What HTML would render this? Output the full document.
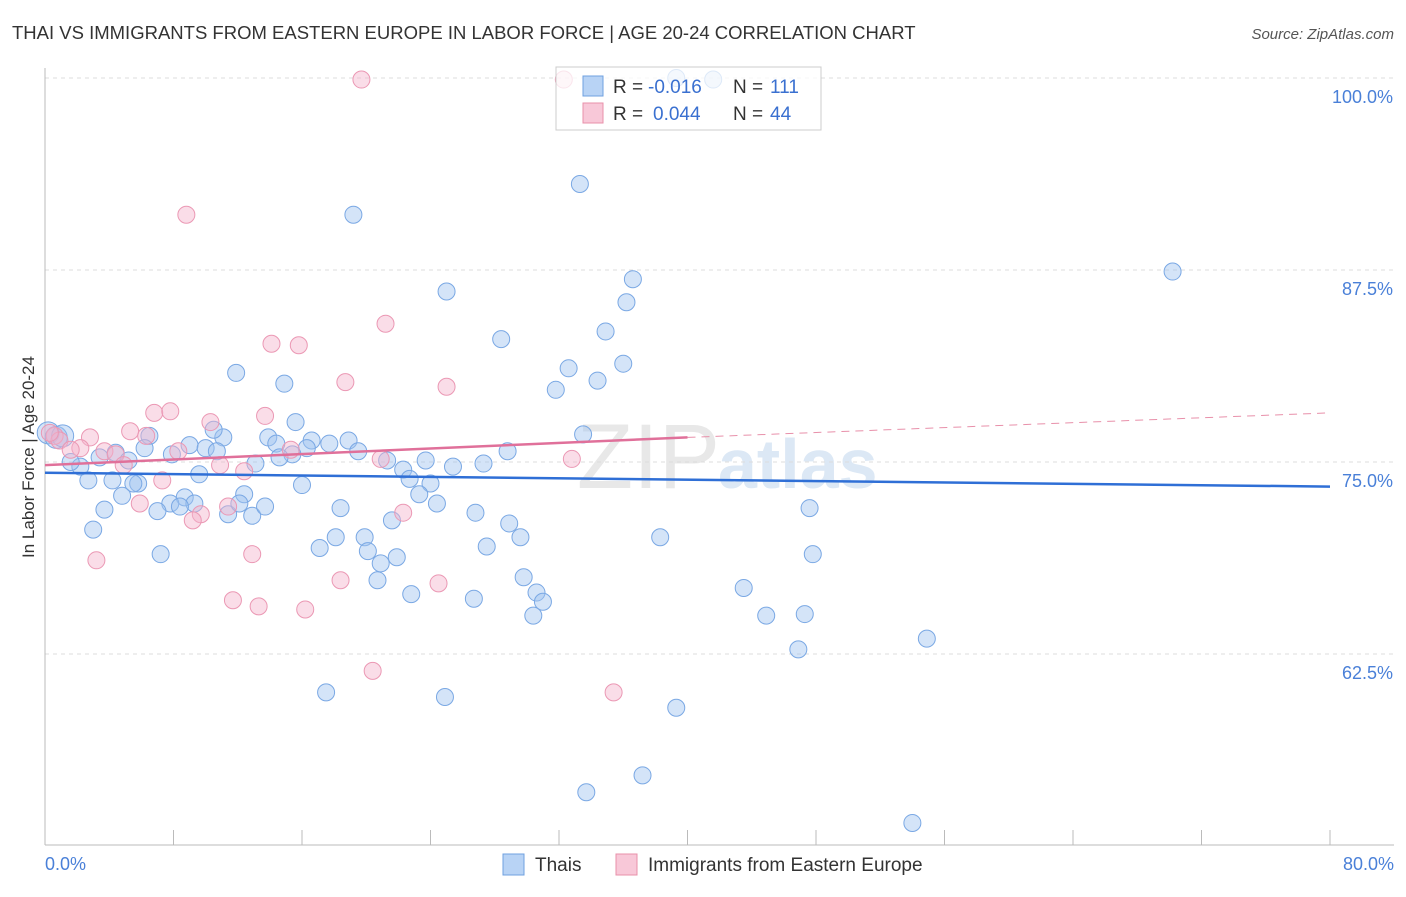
<!DOCTYPE html>
<html><head><meta charset="utf-8"><style>
body{margin:0;background:#fff;font-family:"Liberation Sans",sans-serif;}
svg text{font-family:"Liberation Sans",sans-serif;}
</style></head><body>
<svg id="chart" width="1406" height="892" xmlns="http://www.w3.org/2000/svg">
<text x="12" y="39" font-size="18.5" fill="#333">THAI VS IMMIGRANTS FROM EASTERN EUROPE IN LABOR FORCE | AGE 20-24 CORRELATION CHART</text>
<text x="1394" y="39" font-size="15" fill="#555" font-style="italic" text-anchor="end">Source: ZipAtlas.com</text>
<text x="720" y="488" font-size="92" fill="#e8e8e8" font-family="Liberation Serif" text-anchor="end">ZIP</text>
<text x="718" y="488" font-size="70" fill="#dce8f5" font-weight="bold">atlas</text>
<g id="grid"></g>
<g id="axes"></g>
<g id="marks"></g>
<text transform="translate(34,457) rotate(-90)" font-size="17" fill="#333" text-anchor="middle">In Labor Force | Age 20-24</text>
<text x="45" y="870" font-size="18" fill="#4a80d8">0.0%</text>
<text x="1394" y="870" font-size="18" fill="#4a80d8" text-anchor="end">80.0%</text>
<g>
<rect x="556" y="67" width="265" height="63" fill="#fff" fill-opacity="0.75" stroke="#ccc"/>
<rect x="583" y="76" width="20" height="20" fill="#b8d3f5" stroke="#6fa0e0"/>
<rect x="583" y="103" width="20" height="20" fill="#f8c8d8" stroke="#e890aa"/>
<text x="613" y="93" font-size="19" fill="#333">R =</text>
<text x="648" y="93" font-size="19" fill="#3a70d0">-0.016</text>
<text x="733" y="93" font-size="19" fill="#333">N =</text>
<text x="770" y="93" font-size="19" fill="#3a70d0">111</text>
<text x="613" y="120" font-size="19" fill="#333">R =</text>
<text x="653" y="120" font-size="19" fill="#3a70d0">0.044</text>
<text x="733" y="120" font-size="19" fill="#333">N =</text>
<text x="770" y="120" font-size="19" fill="#3a70d0">44</text>
</g>
<g>
<rect x="503" y="854" width="21" height="21" fill="#b8d3f5" stroke="#6fa0e0"/>
<text x="535" y="871" font-size="19" fill="#333">Thais</text>
<rect x="616" y="854" width="21" height="21" fill="#f8c8d8" stroke="#e890aa"/>
<text x="648" y="871" font-size="19" fill="#333">Immigrants from Eastern Europe</text>
</g>
</svg>
<script>
const blueX=[33.3,19.2,70.2,36.6,25.0,36.2,34.9,28.4,32.6,36.0,34.4,11.9,14.9,31.8,15.6,6.5,11.1,10.5,13.9,16.6,18.9,17.7,9.0,10.0,10.7,6.2,14.4,16.3,15.4,14.6,19.5,21.3,23.7,25.4,27.3,28.8,33.5,22.3,22.7,24.0,23.3,24.4,13.1,9.6,7.9,4.4,5.2,3.4,2.2,1.6,2.7,4.2,5.8,5.5,4.8,16.0,12.4,8.7,7.8,7.0,9.3,8.4,11.4,12.1,12.9,13.7,3.7,3.0,18.4,21.6,26.8,28.9,29.6,18.1,17.1,19.9,20.1,21.9,20.9,27.5,7.2,20.7,22.8,26.7,29.8,30.6,31.0,30.4,38.3,47.6,47.8,43.5,44.9,47.3,46.9,54.9,17.5,24.9,39.3,37.2,33.7,54.0,41.6,39.3,0.2,0.7,1.1];
const blueY=[93.1,91.1,87.4,86.9,86.1,85.4,83.5,83.0,81.1,81.4,80.3,80.8,80.1,79.7,77.6,76.7,76.6,77.1,76.6,76.4,76.4,76.2,76.1,75.9,75.7,75.9,76.2,75.9,75.5,75.3,75.7,75.1,75.1,74.7,74.9,75.7,76.8,74.5,73.9,73.6,72.9,72.3,74.9,74.2,75.5,75.6,75.1,75.3,74.7,75.0,73.8,73.8,73.6,73.6,72.8,73.5,72.9,72.7,72.3,71.8,72.3,72.1,71.6,72.3,71.5,72.1,71.9,70.6,72.0,71.2,71.7,71.0,70.1,70.1,69.4,70.1,69.2,68.8,68.4,69.5,69.0,67.3,66.4,66.1,67.5,66.5,65.9,65.0,70.1,72.0,69.0,66.8,65.0,65.1,62.8,63.5,60.0,59.7,59.0,54.6,53.5,51.5,99.9,100.0,76.9,76.6,76.7];
const pinkX=[19.7,32.3,8.8,21.2,14.1,15.8,18.7,25.0,6.8,7.8,13.7,10.3,5.3,6.3,2.8,2.2,3.7,4.4,4.9,8.3,15.3,10.9,12.4,7.3,5.9,11.4,9.7,9.2,22.3,20.9,32.8,3.2,12.9,18.4,24.5,11.7,13.3,16.2,20.4,35.4,0.6,0.9,1.6,0.3];
const pinkY=[99.9,99.9,91.1,84.0,82.7,82.6,80.2,79.9,78.2,78.3,78.0,77.6,77.0,76.7,76.6,75.9,75.7,75.5,74.8,75.7,75.8,74.8,74.4,73.8,72.3,72.1,71.6,71.2,71.7,75.2,75.2,68.6,69.0,67.3,67.1,66.0,65.6,65.4,61.4,60.0,76.7,76.4,75.8,76.9];
const blueTrend=[74.3,73.4];
const pinkTrend=[74.8,76.6,78.2];
const yTicks=[100,87.5,75,62.5];
const xTicks=[0,8,16,24,32,40,48,56,64,72,80];
const NS='http://www.w3.org/2000/svg';
const sx=v=>45+v/80*1285;
const sy=v=>78+(100-v)*15.36;
function mk(tag,attrs,parent){const e=document.createElementNS(NS,tag);for(const k in attrs)e.setAttribute(k,attrs[k]);parent.appendChild(e);return e;}
const grid=document.getElementById('grid'),axes=document.getElementById('axes'),marks=document.getElementById('marks');
yTicks.forEach(t=>{
 const l=mk('line',{x1:45,x2:1394,y1:sy(t),y2:sy(t),stroke:'#ddd','stroke-dasharray':'4,4'},grid);
 
 
 const tx=mk('text',{x:1393,y:sy(t)+25,'font-size':18,fill:'#4a80d8','text-anchor':'end'},axes);
 tx.textContent=t.toFixed(1)+'%';
 
 
});
const xa=mk('line',{x1:45,x2:1394,y1:845,y2:845,stroke:'#bbb'},axes);


const ya=mk('line',{x1:45,x2:45,y1:68,y2:845,stroke:'#bbb'},axes);


xTicks.forEach(t=>{
 const l=mk('line',{x1:sx(t),x2:sx(t),y1:830,y2:845,stroke:'#bbb'},axes);
 
 
});
blueX.forEach((x,i)=>{
 const c=mk('circle',{cx:sx(x),cy:sy(blueY[i]),r:i>=104?11:8.5,fill:'rgba(160,195,240,0.45)',stroke:'#7aa8e4','stroke-width':1},marks);
 
 
});
pinkX.forEach((x,i)=>{
 const c=mk('circle',{cx:sx(x),cy:sy(pinkY[i]),r:8.5,fill:'rgba(245,180,204,0.45)',stroke:'#eb98b4','stroke-width':1},marks);
 
 
});
const bt=mk('line',{x1:sx(0),y1:sy(blueTrend[0]),x2:sx(80),y2:sy(blueTrend[1]),stroke:'#2f6fd6','stroke-width':2.5},marks);


const pt=mk('line',{x1:sx(0),y1:sy(pinkTrend[0]),x2:sx(40),y2:sy(pinkTrend[1]),stroke:'#e0709a','stroke-width':2.5},marks);


const pd=mk('line',{x1:sx(40),y1:sy(pinkTrend[1]),x2:sx(80),y2:sy(pinkTrend[2]),stroke:'#e890aa','stroke-width':1,'stroke-dasharray':'8,6'},marks);


</script>
</body></html>
